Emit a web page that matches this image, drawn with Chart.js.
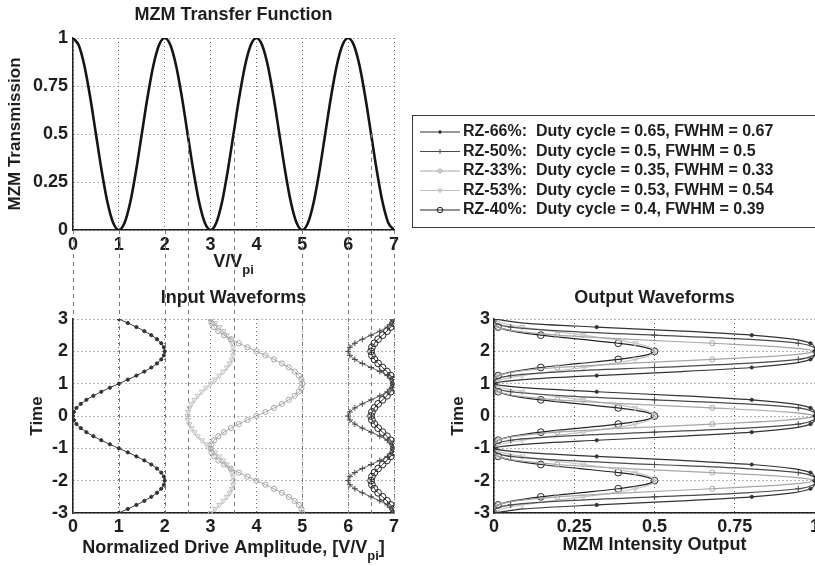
<!DOCTYPE html>
<html>
<head>
<meta charset="utf-8">
<script src="https://cdn.jsdelivr.net/npm/chart.js@4.4.1/dist/chart.umd.min.js"></script>
<style>
  html, body { margin: 0; padding: 0; width: 815px; height: 566px; overflow: hidden; background: #fff; }
  canvas { position: absolute; left: 0; top: 0; }
</style>
</head>
<body>
<canvas id="transfer" width="815" height="566"></canvas>
<canvas id="input" width="815" height="566"></canvas>
<canvas id="output" width="850" height="566"></canvas>
<script>
// --- données ---
const VOLTS = [0, 0.125, 0.25, 0.375, 0.5, 0.625, 0.75, 0.875, 1, 1.125, 1.25, 1.375, 1.5, 1.625, 1.75, 1.875,
  2, 2.125, 2.25, 2.375, 2.5, 2.625, 2.75, 2.875, 3, 3.125, 3.25, 3.375, 3.5, 3.625, 3.75, 3.875,
  4, 4.125, 4.25, 4.375, 4.5, 4.625, 4.75, 4.875, 5, 5.125, 5.25, 5.375, 5.5, 5.625, 5.75, 5.875,
  6, 6.125, 6.25, 6.375, 6.5, 6.625, 6.75, 6.875, 7];
const TRANSFER = [1, 0.962, 0.854, 0.691, 0.5, 0.309, 0.146, 0.038, 0, 0.038, 0.146, 0.309, 0.5, 0.691, 0.854, 0.962,
  1, 0.962, 0.854, 0.691, 0.5, 0.309, 0.146, 0.038, 0, 0.038, 0.146, 0.309, 0.5, 0.691, 0.854, 0.962,
  1, 0.962, 0.854, 0.691, 0.5, 0.309, 0.146, 0.038, 0, 0.038, 0.146, 0.309, 0.5, 0.691, 0.854, 0.962,
  1, 0.962, 0.854, 0.691, 0.5, 0.309, 0.146, 0.038, 0];

const TIME = [-3, -2.875, -2.75, -2.625, -2.5, -2.375, -2.25, -2.125, -2, -1.875, -1.75, -1.625, -1.5, -1.375, -1.25, -1.125,
  -1, -0.875, -0.75, -0.625, -0.5, -0.375, -0.25, -0.125, 0, 0.125, 0.25, 0.375, 0.5, 0.625, 0.75, 0.875,
  1, 1.125, 1.25, 1.375, 1.5, 1.625, 1.75, 1.875, 2, 2.125, 2.25, 2.375, 2.5, 2.625, 2.75, 2.875, 3];

const SERIES = ['RZ-66%', 'RZ-50%', 'RZ-33%', 'RZ-53%', 'RZ-40%'];
const LEGEND_TEXT = [
  'RZ-66%:  Duty cycle = 0.65, FWHM = 0.67',
  'RZ-50%:  Duty cycle = 0.5, FWHM = 0.5',
  'RZ-33%:  Duty cycle = 0.35, FWHM = 0.33',
  'RZ-53%:  Duty cycle = 0.53, FWHM = 0.54',
  'RZ-40%:  Duty cycle = 0.4, FWHM = 0.39'
];

// tension de commande normalisée (V/Vpi) en fonction du temps
const IN_RZ66 = [1, 1.195, 1.383, 1.556, 1.707, 1.831, 1.924, 1.981, 2, 1.981, 1.924, 1.831, 1.707, 1.556, 1.383, 1.195,
  1, 0.805, 0.617, 0.444, 0.293, 0.169, 0.076, 0.019, 0, 0.019, 0.076, 0.169, 0.293, 0.444, 0.617, 0.805,
  1, 1.195, 1.383, 1.556, 1.707, 1.831, 1.924, 1.981, 2, 1.981, 1.924, 1.831, 1.707, 1.556, 1.383, 1.195, 1];
const IN_RZ50 = [7, 6.962, 6.854, 6.691, 6.5, 6.309, 6.146, 6.038, 6, 6.038, 6.146, 6.309, 6.5, 6.691, 6.854, 6.962,
  7, 6.962, 6.854, 6.691, 6.5, 6.309, 6.146, 6.038, 6, 6.038, 6.146, 6.309, 6.5, 6.691, 6.854, 6.962,
  7, 6.962, 6.854, 6.691, 6.5, 6.309, 6.146, 6.038, 6, 6.038, 6.146, 6.309, 6.5, 6.691, 6.854, 6.962, 7];
const IN_RZ33 = [5, 4.981, 4.924, 4.831, 4.707, 4.556, 4.383, 4.195, 4, 3.805, 3.617, 3.444, 3.293, 3.169, 3.076, 3.019,
  3, 3.019, 3.076, 3.169, 3.293, 3.444, 3.617, 3.805, 4, 4.195, 4.383, 4.556, 4.707, 4.831, 4.924, 4.981,
  5, 4.981, 4.924, 4.831, 4.707, 4.556, 4.383, 4.195, 4, 3.805, 3.617, 3.444, 3.293, 3.169, 3.076, 3.019, 3];
const IN_RZ53 = [3, 3.098, 3.191, 3.278, 3.354, 3.416, 3.462, 3.49, 3.5, 3.49, 3.462, 3.416, 3.354, 3.278, 3.191, 3.098,
  3, 2.902, 2.809, 2.722, 2.646, 2.584, 2.538, 2.51, 2.5, 2.51, 2.538, 2.584, 2.646, 2.722, 2.809, 2.902,
  3, 3.098, 3.191, 3.278, 3.354, 3.416, 3.462, 3.49, 3.5, 3.49, 3.462, 3.416, 3.354, 3.278, 3.191, 3.098, 3];
const IN_RZ40 = [7, 6.981, 6.927, 6.846, 6.75, 6.654, 6.573, 6.519, 6.5, 6.519, 6.573, 6.654, 6.75, 6.846, 6.927, 6.981,
  7, 6.981, 6.927, 6.846, 6.75, 6.654, 6.573, 6.519, 6.5, 6.519, 6.573, 6.654, 6.75, 6.846, 6.927, 6.981,
  7, 6.981, 6.927, 6.846, 6.75, 6.654, 6.573, 6.519, 6.5, 6.519, 6.573, 6.654, 6.75, 6.846, 6.927, 6.981, 7];

// intensité en sortie du MZM
const OUT_RZ66 = [0, 0.091, 0.32, 0.587, 0.803, 0.931, 0.986, 0.999, 1, 0.999, 0.986, 0.931, 0.803, 0.587, 0.32, 0.091,
  0, 0.091, 0.32, 0.587, 0.803, 0.931, 0.986, 0.999, 1, 0.999, 0.986, 0.931, 0.803, 0.587, 0.32, 0.091,
  0, 0.091, 0.32, 0.587, 0.803, 0.931, 0.986, 0.999, 1, 0.999, 0.986, 0.931, 0.803, 0.587, 0.32, 0.091, 0];
const OUT_RZ50 = [0, 0.004, 0.052, 0.217, 0.5, 0.783, 0.948, 0.996, 1, 0.996, 0.948, 0.783, 0.5, 0.217, 0.052, 0.004,
  0, 0.004, 0.052, 0.217, 0.5, 0.783, 0.948, 0.996, 1, 0.996, 0.948, 0.783, 0.5, 0.217, 0.052, 0.004,
  0, 0.004, 0.052, 0.217, 0.5, 0.783, 0.948, 0.996, 1, 0.996, 0.948, 0.783, 0.5, 0.217, 0.052, 0.004, 0];
const OUT_RZ33 = [0, 0.001, 0.014, 0.069, 0.197, 0.413, 0.68, 0.909, 1, 0.909, 0.68, 0.413, 0.197, 0.069, 0.014, 0.001,
  0, 0.001, 0.014, 0.069, 0.197, 0.413, 0.68, 0.909, 1, 0.909, 0.68, 0.413, 0.197, 0.069, 0.014, 0.001,
  0, 0.001, 0.014, 0.069, 0.197, 0.413, 0.68, 0.909, 1, 0.909, 0.68, 0.413, 0.197, 0.069, 0.014, 0.001, 0];
const OUT_RZ53 = [0, 0.023, 0.088, 0.179, 0.278, 0.369, 0.44, 0.485, 0.5, 0.485, 0.44, 0.369, 0.278, 0.179, 0.088, 0.023,
  0, 0.023, 0.088, 0.179, 0.278, 0.369, 0.44, 0.485, 0.5, 0.485, 0.44, 0.369, 0.278, 0.179, 0.088, 0.023,
  0, 0.023, 0.088, 0.179, 0.278, 0.369, 0.44, 0.485, 0.5, 0.485, 0.44, 0.369, 0.278, 0.179, 0.088, 0.023, 0];
const OUT_RZ40 = [0, 0.001, 0.013, 0.058, 0.146, 0.267, 0.387, 0.47, 0.5, 0.47, 0.387, 0.267, 0.146, 0.058, 0.013, 0.001,
  0, 0.001, 0.013, 0.058, 0.146, 0.267, 0.387, 0.47, 0.5, 0.47, 0.387, 0.267, 0.146, 0.058, 0.013, 0.001,
  0, 0.001, 0.013, 0.058, 0.146, 0.267, 0.387, 0.47, 0.5, 0.47, 0.387, 0.267, 0.146, 0.058, 0.013, 0.001, 0];

// lignes de renvoi pointillées entre la fonction de transfert et les entrées
const GUIDE_X = [0, 1, 2, 2.5, 3.5, 5, 6, 6.5, 7];
const GUIDE_FROM = [0, 0, 0, 0.5, 0.5, 0, 0, 0.5, 0];

// --- styles ---
const INK = '#1e1e1e';
const FONT = '"Liberation Sans", Arial, sans-serif';
const COLORS = ['#333333', '#4a4a4a', '#a6a6a6', '#c2c2c2', '#262626'];
const MARKERS = ['circle', 'cross', 'circle', 'triangle', 'circle'];
const ROTATIONS = [0, 0, 0, 180, 0];
const RADII = [1.6, 3, 2.6, 3, 3.4];
const FILLS = ['#333333', '#4a4a4a', 'rgba(0,0,0,0)', 'rgba(0,0,0,0)', 'rgba(0,0,0,0)'];

const font = (size) => `bold ${size}px ${FONT}`;

Chart.defaults.font.family = FONT;
Chart.defaults.color = INK;

// Axe linéaire façon MATLAB : grille pointillée, bord gauche/bas plein
function axis(min, max, step, size, pad, horizontal) {
    return {
        type: 'linear',
        min: min,
        max: max,
        ticks: {
            stepSize: step,
            padding: pad,
            maxRotation: 0,
            autoSkip: false,
            color: INK,
            font: { size: 18, weight: 'bold' },
            callback: (v) => String(Math.round(v * 100) / 100)
        },
        grid: { color: '#6a6a6a', lineWidth: 1, drawTicks: false },
        border: { display: true, color: '#222', width: 1.5, dash: [1, 3] },
        afterFit: (scale) => {
            if (horizontal) scale.height = size; else scale.width = size;
        }
    };
}

// Écrit le titre, l'étiquette x (avec indice) et l'étiquette y
function drawParts(ctx, parts, cx, cy) {
    const widths = parts.map(p => {
        ctx.font = font(p[1] ? 13 : 18);
        return ctx.measureText(p[0]).width;
    });
    let x = cx - widths.reduce((s, w) => s + w, 0) / 2;
    ctx.textAlign = 'left';
    parts.forEach((p, i) => {
        ctx.font = font(p[1] ? 13 : 18);
        ctx.fillText(p[0], x, cy + (p[1] ? 8 : 0));
        x += widths[i];
    });
}

const frameText = {
    id: 'frameText',
    afterDraw(chart, args, opts) {
        const { ctx, chartArea: a } = chart;
        const cx = (a.left + a.right) / 2;
        ctx.save();
        ctx.fillStyle = INK;
        ctx.textBaseline = 'middle';
        ctx.textAlign = 'center';
        ctx.font = font(18);
        ctx.fillText(opts.title, cx, a.top + opts.titleDy);
        drawParts(ctx, opts.xLabel, cx, a.bottom + opts.xLabelDy);
        ctx.translate(a.left + opts.yLabelDx, (a.top + a.bottom) / 2);
        ctx.rotate(-Math.PI / 2);
        ctx.textAlign = 'center';
        ctx.font = font(17);
        ctx.fillText(opts.yLabel, 0, 0);
        ctx.restore();
    }
};

function baseOptions(padding, textOpts) {
    return {
        responsive: false,
        animation: false,
        events: [],
        layout: { padding: padding },
        plugins: { legend: { display: false }, tooltip: { enabled: false }, frameText: textOpts }
    };
}

function series(values, i, sparse) {
    return {
        label: SERIES[i],
        data: TIME.map((t, k) => ({ x: values[k], y: t })),
        showLine: true,
        borderColor: COLORS[i],
        borderWidth: sparse ? 1.2 : 1,
        pointStyle: MARKERS[i],
        pointRotation: ROTATIONS[i],
        pointBorderColor: COLORS[i],
        pointBackgroundColor: FILLS[i],
        pointBorderWidth: 1,
        pointRadius: sparse ? (c => (c.dataIndex % 2 ? 0 : RADII[i])) : RADII[i],
        tension: 0.3
    };
}

// --- Fonction de transfert ---
const transferOpts = baseOptions({ left: 0, top: 38, right: 421, bottom: 286 },
    { title: 'MZM Transfer Function', titleDy: -23, xLabel: [['V/V'], ['pi', true]], xLabelDy: 32, yLabel: 'MZM Transmission', yLabelDx: -58 });
transferOpts.scales = { x: axis(0, 7, 1, 50, 4, true), y: axis(0, 1, 0.25, 73, 5, false) };

const transferChart = new Chart(document.getElementById('transfer'), {
    type: 'scatter',
    data: {
        datasets: [{
            label: 'MZM',
            data: VOLTS.map((v, k) => ({ x: v, y: TRANSFER[k] })),
            showLine: true,
            borderColor: '#151515',
            borderWidth: 2.6,
            pointRadius: 0,
            cubicInterpolationMode: 'monotone'
        }]
    },
    options: transferOpts,
    plugins: [frameText]
});

// --- Formes d'onde d'entrée ---
const guideLines = {
    id: 'guideLines',
    beforeDatasetsDraw(chart) {
        const { ctx, chartArea: a, scales } = chart;
        ctx.save();
        ctx.strokeStyle = '#7a7a7a';
        ctx.lineWidth = 1;
        ctx.setLineDash([4, 4]);
        GUIDE_X.forEach((v, i) => {
            const x = Math.round(scales.x.getPixelForValue(v)) + 0.5;
            ctx.beginPath();
            ctx.moveTo(x, transferChart.scales.y.getPixelForValue(GUIDE_FROM[i]));
            ctx.lineTo(x, a.bottom);
            ctx.stroke();
        });
        ctx.restore();
    }
};

const inputOpts = baseOptions({ left: 0, top: 319, right: 421, bottom: 0 },
    { title: 'Input Waveforms', titleDy: -21, xLabel: [['Normalized Drive Amplitude, [V/V'], ['pi', true], [']']], xLabelDy: 35, yLabel: 'Time', yLabelDx: -36 });
inputOpts.scales = { x: axis(0, 7, 1, 53, 3, true), y: axis(-3, 3, 1, 73, 5, false) };

new Chart(document.getElementById('input'), {
    type: 'scatter',
    data: {
        datasets: [
            series(IN_RZ66, 0, false),
            series(IN_RZ50, 1, false),
            series(IN_RZ33, 2, false),
            series(IN_RZ53, 3, false),
            series(IN_RZ40, 4, false)
        ]
    },
    options: inputOpts,
    plugins: [guideLines, frameText]
});

// --- Formes d'onde de sortie + légende ---
const seriesLegend = {
    id: 'seriesLegend',
    afterDraw(chart, args, opts) {
        const ctx = chart.ctx;
        const b = opts.box;
        ctx.save();
        ctx.fillStyle = '#fff';
        ctx.fillRect(b.x, b.y, b.w, b.h);
        ctx.strokeStyle = '#3a3a3a';
        ctx.lineWidth = 1;
        ctx.strokeRect(b.x + 0.5, b.y + 0.5, b.w, b.h);
        chart.data.datasets.forEach((ds, i) => {
            const y = b.y + opts.firstRow + i * opts.rowGap;
            ctx.strokeStyle = ds.borderColor;
            ctx.beginPath();
            ctx.moveTo(b.x + 8, y);
            ctx.lineTo(b.x + 48, y);
            ctx.stroke();
            ctx.fillStyle = ds.pointBackgroundColor;
            Chart.helpers.drawPoint(ctx, { pointStyle: ds.pointStyle, radius: RADII[i] * 0.8, rotation: ds.pointRotation, borderWidth: 1 }, b.x + 28, y);
            ctx.fillStyle = INK;
            ctx.font = font(16);
            ctx.textAlign = 'left';
            ctx.textBaseline = 'middle';
            ctx.fillText(LEGEND_TEXT[i], b.x + 51, y);
        });
        ctx.restore();
    }
};

const outputOpts = baseOptions({ left: 414, top: 319, right: 35, bottom: 0 },
    { title: 'Output Waveforms', titleDy: -21, xLabel: [['MZM Intensity Output']], xLabelDy: 32, yLabel: 'Time', yLabelDx: -36 });
outputOpts.scales = { x: axis(0, 1, 0.25, 53, 3, true), y: axis(-3, 3, 1, 80, 4, false) };
outputOpts.plugins.seriesLegend = { box: { x: 412, y: 115, w: 430, h: 112 }, firstRow: 17, rowGap: 19.5 };

new Chart(document.getElementById('output'), {
    type: 'scatter',
    data: {
        datasets: [
            series(OUT_RZ66, 0, true),
            series(OUT_RZ50, 1, true),
            series(OUT_RZ33, 2, true),
            series(OUT_RZ53, 3, true),
            series(OUT_RZ40, 4, true)
        ]
    },
    options: outputOpts,
    plugins: [frameText, seriesLegend]
});
</script>
</body>
</html>
